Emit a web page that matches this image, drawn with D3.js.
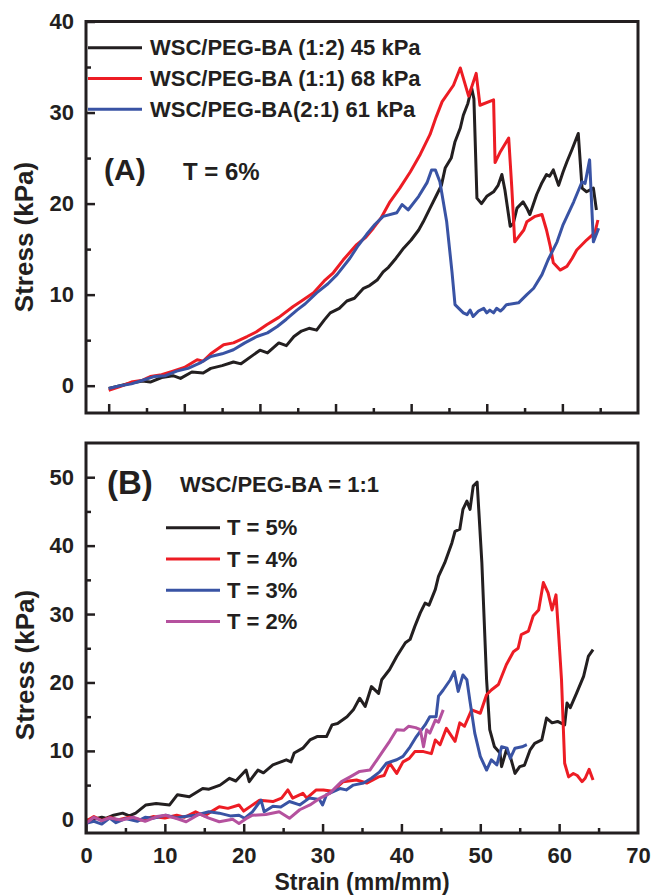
<!DOCTYPE html>
<html>
<head>
  <meta charset="utf-8">
  <title>Stress-strain</title>
  <script src="https://d3js.org/d3.v7.min.js"></script>
  <style>
    body { margin: 0; background: #fff; }
    svg { font-family: "Liberation Sans", Arial, sans-serif; font-weight: bold; }
    .tick line { stroke: #231f20; stroke-width: 2.5; }
    .tick text { fill: #231f20; font-size: 22px; font-weight: bold; }
    .domain { display: none; }
    .line { fill: none; stroke-width: 3; stroke-linejoin: round; }
  </style>
</head>
<body>
  <svg width="653" height="896"></svg>
  <script>
    // panel A: T = 6%, three ratios
    const a12 = [[0,-0.3],[1.5,0],[3,0.3],[4.5,0.5],[5.5,0.4],[7,0.9],[8.5,1.1],[9.5,0.8],[11,1.5],[12.5,1.4],[13.5,1.9],[15,2.2],[16.5,2.6],[17.5,2.4],[19,3.3],[20,3.9],[21,3.6],[22.5,4.7],[23.5,4.4],[24.5,5.4],[25.5,6.0],[26.5,6.3],[27.5,6.1],[28.5,7.2],[29.3,8.0],[30.5,8.5],[31.5,9.3],[32.5,9.6],[33.7,10.7],[34.5,11.0],[35.5,11.6],[36.3,12.5],[37,13.0],[38,14.0],[39,15.1],[40,16.0],[41,17.1],[41.6,18.0],[42.5,19.5],[43.4,21.0],[44,22.0],[44.5,23.9],[45.3,25.0],[45.8,26.8],[46.5,28.3],[46.9,29.7],[47.5,31.0],[48,32.7],[48.3,31.5],[48.7,20.6],[49.3,20.0],[50,20.8],[50.9,21.3],[51.5,22.0],[52,23.2],[52.4,21.5],[53.1,17.5],[53.5,17.8],[54,19.5],[54.8,20.2],[55.3,19.5],[55.7,18.8],[56.6,21.0],[57.3,22.3],[57.9,23.2],[58.3,23.0],[58.8,23.7],[59.5,22.0],[60.1,23.5],[60.6,24.6],[61.3,26.0],[62.1,27.7],[62.6,21.7],[63.2,21.3],[64.1,21.7],[64.5,19.3]];
    const a11 = [[0,-0.5],[1.5,-0.1],[3,0.4],[4.5,0.6],[5.5,1.0],[7,1.2],[8.5,1.6],[10,2.0],[11.7,2.85],[12.5,2.7],[13.5,3.5],[15.2,4.5],[16.5,4.7],[18.3,5.4],[19.5,5.9],[20.9,6.7],[22.5,7.5],[24.4,8.7],[25.5,9.3],[27.1,10.2],[28.5,11.5],[29.7,12.4],[31,13.8],[32.8,15.5],[34,16.3],[35,17.3],[36,18.4],[37.2,20.2],[38.5,21.7],[39.9,23.5],[41.2,25.4],[42.5,27.6],[43.3,29.5],[44.1,31.2],[45.6,33.0],[46.5,34.9],[47.6,31.8],[48.6,34.3],[49.1,30.8],[50.9,31.4],[51.1,24.5],[51.8,25.7],[52.9,27.2],[53.3,21.9],[53.7,15.8],[54.9,17.1],[55.3,18.0],[56.4,18.6],[57.3,18.8],[57.9,17.1],[58.4,15.3],[58.8,13.5],[59.7,12.7],[60.6,13.1],[61.3,14.0],[61.9,14.9],[63.2,16.0],[64.3,16.8],[64.7,18.2]];
    const a21 = [[0,-0.3],[1.5,0],[3,0.2],[4.5,0.6],[6,1.0],[7.5,1.1],[9,1.6],[10.5,1.9],[12.1,2.5],[13.5,3.2],[15,3.5],[16.5,3.95],[18,4.7],[19.6,5.4],[21,5.8],[22.3,6.5],[23.5,7.3],[24.9,8.3],[26,9.0],[27.5,10.2],[29,11.2],[30.2,12.2],[31.9,14.0],[33,15.4],[34.1,16.6],[35.2,17.7],[36.3,18.6],[38.1,19.0],[38.8,19.9],[39.6,19.3],[41,20.8],[42.1,22.3],[42.7,23.7],[43.2,23.7],[43.8,22.4],[44.7,18.0],[45.4,12.5],[45.8,8.9],[46.9,8.0],[47.4,7.8],[47.8,8.3],[48.2,7.6],[48.9,8.2],[49.6,8.5],[50.0,8.0],[50.4,8.3],[50.9,8.0],[51.3,8.5],[51.8,8.2],[52.2,8.5],[52.6,8.9],[54.2,9.1],[55.3,10.0],[56.2,10.7],[57.3,12.2],[58.1,13.8],[59.3,15.8],[60.1,17.7],[61.5,20.2],[62.6,22.4],[63,22.2],[63.6,24.8],[64.1,15.8],[64.8,17.3]];
    const namesA = ["WSC/PEG-BA (1:2) 45 kPa", "WSC/PEG-BA (1:1) 68 kPa", "WSC/PEG-BA(2:1) 61 kPa"];

    // panel B: WSC/PEG-BA = 1:1, four T values
    const t5 = [[0,-0.35],[1,0],[2,0.3],[2.5,0.15],[3.5,0.6],[4.65,0.9],[5.5,0.5],[6.3,0.9],[7.6,2.1],[8.9,2.3],[10.6,2.1],[11.6,3.6],[13.1,3.3],[14.8,4.5],[15.6,4.4],[17,5.0],[18.2,6.0],[19,5.6],[20.3,7.2],[20.7,5.5],[21.8,7.2],[22.5,6.8],[23.7,7.95],[25.4,8.7],[26,8.4],[26.4,9.7],[27.5,10.4],[28.4,11.6],[29.3,12.1],[30.5,12.1],[31.2,13.8],[31.9,14.0],[33.1,15.0],[33.9,16.0],[34.7,17.7],[35.4,16.5],[36.2,19.4],[37.1,18.4],[37.5,20.4],[38.5,21.9],[39.4,23.8],[40.5,25.8],[41.1,26.3],[41.7,28.2],[42.4,30.2],[43,31.6],[43.5,31.3],[44.3,33.6],[44.7,35.5],[45.5,37.5],[46.4,40.4],[46.8,42.1],[47.4,42.4],[47.8,45.3],[48.3,46.5],[48.7,45.3],[49.1,48.7],[49.6,49.3],[50.2,37.5],[50.8,20.4],[51.2,13.1],[51.8,10.6],[52.5,9.7],[52.7,7.7],[53.3,10.1],[53.8,9.2],[54.4,6.7],[55,7.7],[55.6,7.9],[56.3,10.1],[56.9,11.1],[57.8,11.6],[58.4,14.8],[59.1,14.1],[59.8,14.3],[60.7,13.8],[61,17.0],[61.4,16.3],[62.2,18.4],[63.1,20.9],[63.7,23.8],[64.3,24.8]];
    const t4 = [[0,-0.3],[1,0.4],[2,-0.2],[3,0.3],[4,-0.1],[5.5,0.3],[7,-0.1],[8.5,0.4],[10,0.2],[11.5,0.6],[12.5,0.3],[13.9,1.1],[15,0.5],[16.9,1.85],[18,1.6],[19.4,2.1],[20,1.2],[21,2.0],[22,2.8],[23.7,2.6],[24.8,3.1],[25.6,4.3],[26.2,3.1],[27.5,3.8],[28,3.1],[29.2,4.3],[30.1,4.3],[31.3,4.1],[32.6,5.5],[34.3,5.75],[35.6,5.3],[37.1,6.2],[37.8,6.4],[38.5,8.2],[39.4,6.7],[40.2,8.4],[41,8.9],[41.7,9.9],[42.8,9.9],[43.8,9.6],[44.3,11.6],[44.9,10.9],[45.7,13.3],[46.8,11.4],[47.4,14.1],[48,13.6],[48.9,16.0],[50,15.5],[50.8,18.2],[51.4,18.9],[52.3,19.7],[53.3,22.6],[54.2,24.5],[54.8,25.0],[55.2,27.0],[56.1,27.5],[56.7,29.7],[57.4,30.6],[58,34.6],[58.6,33.1],[59.1,30.6],[59.6,32.8],[59.9,27.7],[60.3,20.4],[60.7,8.2],[61.2,6.2],[61.8,6.7],[62.3,6.4],[62.9,5.5],[63.3,6.0],[63.8,7.3],[64.3,5.75]];
    const t3 = [[0,-0.6],[1,-0.3],[2,-0.7],[3,0.2],[3.8,-0.5],[5,0.1],[6.5,-0.3],[7.5,0.3],[8.5,0.15],[10.1,0.6],[11.5,0.2],[12.5,0.4],[13.9,0.6],[15.6,1.1],[16.9,0.9],[18.3,0.5],[19.4,0.6],[20.1,0.15],[21.1,1.1],[22.2,2.8],[22.6,1.1],[23.7,1.9],[24.7,1.8],[25.8,2.6],[27.1,2.1],[28.3,3.1],[29.6,2.9],[30,2.1],[30.5,3.6],[32.2,4.5],[33,4.3],[33.9,5.0],[35.2,5.3],[36.2,6.0],[37.2,6.9],[38.1,8.2],[39.4,8.7],[40.2,9.2],[41.1,10.6],[41.9,12.1],[43,13.8],[43.6,15.0],[44.4,15.0],[44.7,18.0],[45.3,18.9],[46.2,20.4],[46.7,21.6],[47.2,18.7],[47.8,21.1],[48.3,20.4],[48.7,17.2],[49.3,12.6],[50,9.2],[50.8,7.2],[51.4,8.7],[52.1,7.95],[52.7,10.6],[53.4,10.4],[53.8,8.9],[54.4,10.4],[55.3,10.6],[55.9,10.9]];
    const t2 = [[0,-0.6],[1,0.3],[2,-0.2],[3,0.2],[4.5,-0.1],[6,0.3],[7.5,-0.3],[9,0.4],[10.1,0.6],[11.5,0.1],[12.7,-0.35],[14.4,0.8],[15.5,0.2],[16.9,-0.35],[18.6,0],[19.4,-0.6],[20.3,0.1],[21.1,0.6],[22.8,0.7],[24.5,1.1],[25.8,0.15],[27.1,1.4],[28.4,2.1],[29.7,3.1],[30.9,3.8],[32.4,5.5],[33.5,6.2],[34.7,7.0],[36,7.2],[36.9,8.7],[37.5,9.7],[38.5,11.4],[39.4,13.1],[40.3,13.0],[40.9,13.6],[41.8,13.4],[42.4,13.1],[42.8,10.6],[43.2,13.1],[43.6,12.6],[44.3,14.5],[44.7,14.2],[45.3,16.0]];
    const namesB = ["T = 5%", "T = 4%", "T = 3%", "T = 2%"];

    const xTicks = [0, 10, 20, 30, 40, 50, 60, 70];
    const xMinor = [5, 15, 25, 35, 45, 55, 65];
    const yTicksA = [0, 10, 20, 30, 40];
    const yMinorA = [5, 15, 25, 35];
    const yTicksB = [0, 10, 20, 30, 40, 50];
    const yMinorB = [5, 15, 25, 35, 45];

    const black = "#231f20", red = "#ed1c24", blue = "#3953a4", purple = "#b5519e";

    const svg = d3.select("svg");
    const left = 86, right = 638;

    function panel(cfg) {
      const x = d3.scaleLinear().domain(cfg.xDomain).range([left, right]);
      const y = d3.scaleLinear().domain(cfg.yDomain).range([cfg.bottom, cfg.top]);
      const g = svg.append("g");

      g.append("g").attr("transform", `translate(0,${cfg.bottom})`)
        .call(d3.axisBottom(x).tickValues(xTicks.filter(v => v < 70)).tickSize(-9).tickPadding(cfg.xLabels ? 14 : 0)
          .tickFormat(cfg.xLabels ? d3.format("d") : ""));
      if (cfg.xLabels) {
        g.append("g").attr("transform", `translate(0,${cfg.bottom})`)
          .call(d3.axisBottom(x).tickValues([70]).tickSize(0).tickPadding(14).tickFormat(d3.format("d")));
      }
      g.append("g").attr("transform", `translate(0,${cfg.bottom})`)
        .call(d3.axisBottom(x).tickValues(xMinor).tickSize(-5).tickFormat(""));
      g.append("g").attr("transform", `translate(${left},0)`)
        .call(d3.axisLeft(y).tickValues(cfg.yTicks).tickSize(-9).tickPadding(12).tickFormat(d3.format("d")));
      g.append("g").attr("transform", `translate(${left},0)`)
        .call(d3.axisLeft(y).tickValues(cfg.yMinor).tickSize(-5).tickFormat(""));
      g.selectAll(".tick text").attr("fill", black);

      const line = d3.line().x(d => x(d[0])).y(d => y(d[1]));
      cfg.series.forEach(s => {
        g.append("path").datum(s.data).attr("class", "line")
          .attr("stroke", s.color).attr("d", line);
      });

      g.append("rect").attr("x", left).attr("y", cfg.top)
        .attr("width", right - left).attr("height", cfg.bottom - cfg.top)
        .attr("fill", "none").attr("stroke", black).attr("stroke-width", 3);

      // legend
      cfg.series.forEach((s, i) => {
        const ly = cfg.legend.y + i * cfg.legend.dy;
        g.append("line").attr("x1", cfg.legend.x).attr("x2", cfg.legend.x + 54)
          .attr("y1", ly).attr("y2", ly).attr("stroke", s.color).attr("stroke-width", 3);
        g.append("text").attr("x", cfg.legend.x + cfg.legend.gap).attr("y", ly + 7.5)
          .attr("font-size", cfg.legend.size).attr("fill", black).text(s.name);
      });

      g.append("text").attr("transform", `translate(${cfg.ylabX},${cfg.ylabY}) rotate(-90)`)
        .attr("text-anchor", "middle").attr("font-size", 26).attr("fill", black)
        .text("Stress (kPa)");
      return g;
    }

    const gA = panel({
      top: 21.5, bottom: 413, xDomain: [-3, 70], yDomain: [-3, 40],
      yTicks: yTicksA, yMinor: yMinorA, xLabels: false,
      series: [
        { data: a12, color: black, name: namesA[0] },
        { data: a11, color: red, name: namesA[1] },
        { data: a21, color: blue, name: namesA[2] }
      ],
      legend: { x: 88, y: 47.7, dy: 30.8, gap: 62, size: 22 },
      ylabX: 33, ylabY: 237
    });
    gA.append("text").attr("x", 104).attr("y", 180).attr("font-size", 30).attr("fill", black).text("(A)");
    gA.append("text").attr("x", 183).attr("y", 180).attr("font-size", 24).attr("fill", black).text("T = 6%");

    const gB = panel({
      top: 443, bottom: 833, xDomain: [0, 70], yDomain: [-2, 55],
      yTicks: yTicksB, yMinor: yMinorB, xLabels: true,
      series: [
        { data: t5, color: black, name: namesB[0] },
        { data: t4, color: red, name: namesB[1] },
        { data: t3, color: blue, name: namesB[2] },
        { data: t2, color: purple, name: namesB[3] }
      ],
      legend: { x: 166, y: 527.7, dy: 31.3, gap: 61, size: 22 },
      ylabX: 34, ylabY: 665
    });
    gB.append("text").attr("x", 107).attr("y", 494).attr("font-size", 33).attr("fill", black).text("(B)");
    gB.append("text").attr("x", 180).attr("y", 492).attr("font-size", 22).attr("fill", black).text("WSC/PEG-BA = 1:1");

    svg.append("text").attr("x", 362).attr("y", 890).attr("text-anchor", "middle")
      .attr("font-size", 23).attr("fill", black).text("Strain (mm/mm)");
  </script>
</body>
</html>
